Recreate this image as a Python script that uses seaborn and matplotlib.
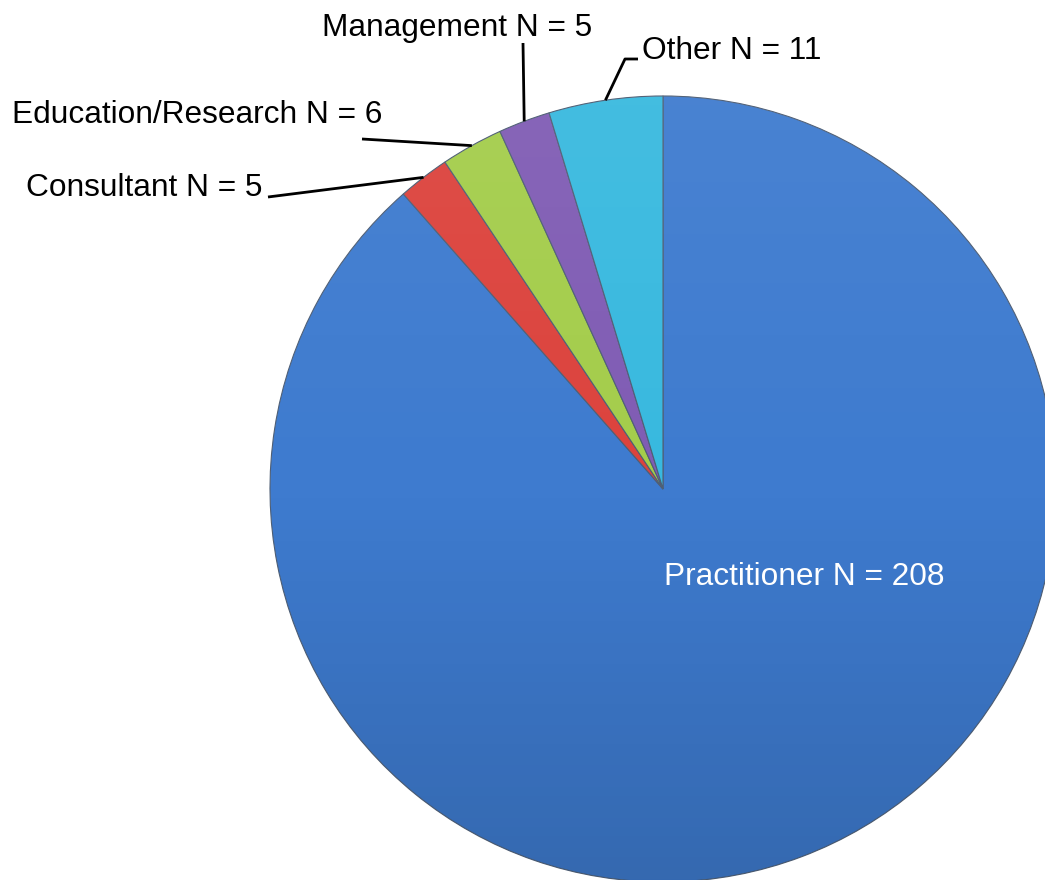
import numpy as np
import matplotlib.pyplot as plt
import seaborn as sns
from matplotlib.patches import Circle

# données
categories = ['Practitioner', 'Consultant', 'Education/Research', 'Management', 'Other']
counts = [208, 5, 6, 5, 11]
colors = ['#3e7bcf', '#dc433d', '#a4cd4b', '#805cb4', '#38b9df']

sns.set_theme(style='white')
plt.rcParams['font.family'] = ['Liberation Sans', 'DejaVu Sans']

W, H = 1045, 880
fig = plt.figure(figsize=(10.45, 8.8), dpi=100)
ax = fig.add_axes([0, 0, 1, 1])

# pie in pixel-like coordinates (y up)
cx, cy, r = 663, H - 489, 393
wedges, _ = ax.pie(counts, colors=colors, startangle=90, counterclock=False,
                   center=(cx, cy), radius=r,
                   wedgeprops=dict(edgecolor='#4f5f75', linewidth=0.8))

# light on top, darker at the bottom
t = np.linspace(0, 1, 256)[:, None]
grad = np.zeros((256, 1, 4))
grad[..., :3] = np.where(t < 0.5, 1.0, 0.0)[..., None]
grad[..., 3] = np.where(t < 0.5, 0.06 * (1 - 2 * t), 0.15 * (2 * t - 1))
im = ax.imshow(grad, extent=(cx - r, cx + r, cy - r, cy + r), origin='upper',
               aspect='auto', zorder=3)
im.set_clip_path(Circle((cx, cy), r, transform=ax.transData))

ax.set_xlim(0, W)
ax.set_ylim(0, H)
ax.set_aspect('equal')
ax.axis('off')

# labels: (x, y in px from top, ha) and leader line ends
label_pos = {
    'Practitioner': (664, 585, 'left'),
    'Consultant': (262, 196, 'right'),
    'Education/Research': (12, 123, 'left'),
    'Management': (322, 36, 'left'),
    'Other': (642, 59, 'left'),
}
leader_ends = {
    'Consultant': [(268, 197)],
    'Education/Research': [(362, 139)],
    'Management': [(523, 43)],
    'Other': [(625, 59), (638, 59)],
}

for w, cat, n in zip(wedges, categories, counts):
    x, y, ha = label_pos[cat]
    col = 'white' if cat == 'Practitioner' else 'black'
    ax.text(x, H - y, f'{cat} N = {n}', ha=ha, va='baseline', fontsize=22.8,
            color=col, zorder=5)
    if cat in leader_ends:
        a = np.deg2rad((w.theta1 + w.theta2) / 2)
        xs = [cx + r * np.cos(a)] + [p[0] for p in leader_ends[cat]]
        ys = [cy + r * np.sin(a)] + [H - p[1] for p in leader_ends[cat]]
        ax.plot(xs, ys, color='black', lw=2, zorder=4, solid_capstyle='butt')

fig.savefig('out.png', dpi=100)
